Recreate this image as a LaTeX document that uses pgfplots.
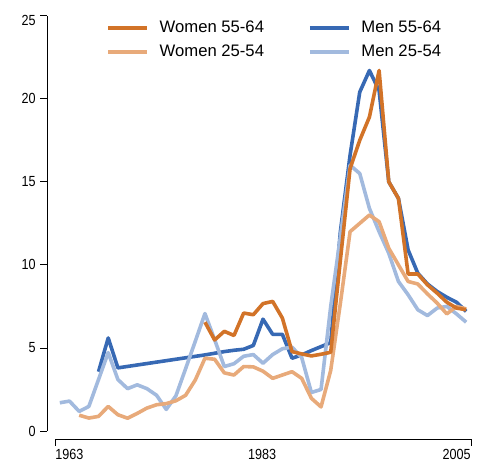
\documentclass[border=0pt]{standalone}
\usepackage{fontspec}
\setmainfont{Liberation Sans}
\newfontfamily\tickfont[FakeStretch=0.86]{Liberation Sans}
\usepackage{pgfplots}
\usepackage{pgfplotstable}
\pgfplotsset{compat=1.18}

\definecolor{wold}{RGB}{210,115,40}
\definecolor{wyoung}{RGB}{232,170,122}
\definecolor{mold}{RGB}{55,105,180}
\definecolor{myoung}{RGB}{162,186,222}

\pgfplotstableread{
year val
1967 3.57
1968 5.6
1969 3.8
1978 4.58
1979 4.68
1980 4.78
1981 4.86
1982 4.92
1983 5.15
1984 6.73
1985 5.82
1986 5.82
1987 4.38
1988 4.58
1989 4.84
1990 5.08
1991 5.32
1992 12.0
1993 16.6
1994 20.4
1995 21.7
1996 20.5
1997 15.0
1998 14.0
1999 10.9
2000 9.5
2001 8.85
2002 8.4
2003 8.05
2004 7.75
2005 7.2
}\menold

\pgfplotstableread{
year val
1978 6.55
1979 5.48
1980 6.0
1981 5.75
1982 7.1
1983 7.0
1984 7.67
1985 7.8
1986 6.8
1987 4.78
1988 4.64
1989 4.52
1990 4.62
1991 4.74
1992 10.3
1993 15.8
1994 17.5
1995 18.9
1996 21.7
1997 15.0
1998 14.0
1999 9.45
2000 9.45
2001 8.8
2002 8.3
2003 7.75
2004 7.4
2005 7.3
}\womenold

\pgfplotstableread{
year val
1965 0.95
1966 0.78
1967 0.88
1968 1.48
1969 0.98
1970 0.77
1971 1.06
1972 1.38
1973 1.58
1974 1.65
1975 1.82
1976 2.15
1977 3.07
1978 4.38
1979 4.32
1980 3.5
1981 3.37
1982 3.88
1983 3.86
1984 3.6
1985 3.17
1986 3.37
1987 3.57
1988 3.17
1989 1.97
1990 1.45
1991 3.65
1992 7.7
1993 12.0
1994 12.5
1995 13.0
1996 12.6
1997 11.0
1998 10.0
1999 9.0
2000 8.85
2001 8.25
2002 7.7
2003 7.05
2004 7.5
2005 7.35
}\womenyoung

\pgfplotstableread{
year val
1963 1.7
1964 1.8
1965 1.18
1966 1.48
1967 3.1
1968 4.72
1969 3.1
1970 2.55
1971 2.78
1972 2.55
1973 2.15
1974 1.3
1975 2.12
1976 3.75
1977 5.4
1978 7.07
1979 5.5
1980 3.88
1981 4.05
1982 4.5
1983 4.6
1984 4.08
1985 4.6
1986 4.95
1987 5.05
1988 4.42
1989 2.32
1990 2.5
1991 7.5
1992 11.7
1993 16.0
1994 15.5
1995 13.4
1996 12.0
1997 10.7
1998 9.0
1999 8.2
2000 7.3
2001 6.95
2002 7.4
2003 7.5
2004 7.05
2005 6.55
}\menyoung

\begin{document}
\begin{tikzpicture}
\useasboundingbox (-41.25pt,-22.5pt) rectangle (327pt,323.25pt);
\begin{axis}[
  scale only axis, width=312pt, height=311.5pt,
  xmin=1962.5, xmax=2005.5, ymin=0, ymax=25,
  axis x line*=bottom, axis y line*=left,
  axis x line shift=6.2pt, axis y line shift=6pt,
  axis line style={black, line width=0.6pt, -},
  ytick={0,5,10,15,20},
  extra y ticks={25},
  extra y tick style={tick label style={yshift=-3.75pt}},
  xtick={1962.5,2005.5}, xticklabels={},
  tick align=outside, major tick length=5pt,
  tick style={black, line width=0.6pt},
  tick label style={font=\tickfont\fontsize{11}{13}\selectfont},
  /pgf/number format/assume math mode=true,
  clip=false,
  legend columns=2,
  legend image code/.code={\draw[#1] (0pt,0pt) -- (29pt,0pt);},
  legend style={draw=none, fill=none, at={(rel axis cs:0.1226,0.987)}, anchor=north west,
    inner sep=0pt, row sep=7.5pt,
    nodes={inner sep=0pt, font=\fontsize{12.5}{15}\selectfont},
    /tikz/every odd column/.append style={column sep=8.25pt},
    /tikz/every even column/.append style={column sep=33pt}},
]
\addplot[mold, line width=2.7pt, line join=round, forget plot] table[x=year,y=val] {\menold};
\addplot[myoung, line width=2.7pt, line join=round, forget plot] table[x=year,y=val] {\menyoung};
\addplot[wyoung, line width=2.7pt, line join=round, forget plot] table[x=year,y=val] {\womenyoung};
\addplot[wold, line width=2.7pt, line join=round, forget plot] table[x=year,y=val] {\womenold};

\addlegendimage{wold, line width=2.8pt}
\addlegendentry{Women 55-64}
\addlegendimage{mold, line width=2.8pt}
\addlegendentry{Men 55-64}
\addlegendimage{wyoung, line width=2.8pt}
\addlegendentry{Women 25-54}
\addlegendimage{myoung, line width=2.8pt}
\addlegendentry{Men 25-54}

\node[anchor=north west, inner sep=0pt, font=\tickfont\fontsize{11}{13}\selectfont, yshift=-13.5pt] at (axis cs:1962.5,0) {1963};
\node[anchor=north, inner sep=0pt, font=\tickfont\fontsize{11}{13}\selectfont, yshift=-13.5pt] at (axis cs:1983.9,0) {1983};
\node[anchor=north east, inner sep=0pt, font=\tickfont\fontsize{11}{13}\selectfont, yshift=-13.5pt] at (axis cs:2005.5,0) {2005};
\end{axis}
\end{tikzpicture}
\end{document}
